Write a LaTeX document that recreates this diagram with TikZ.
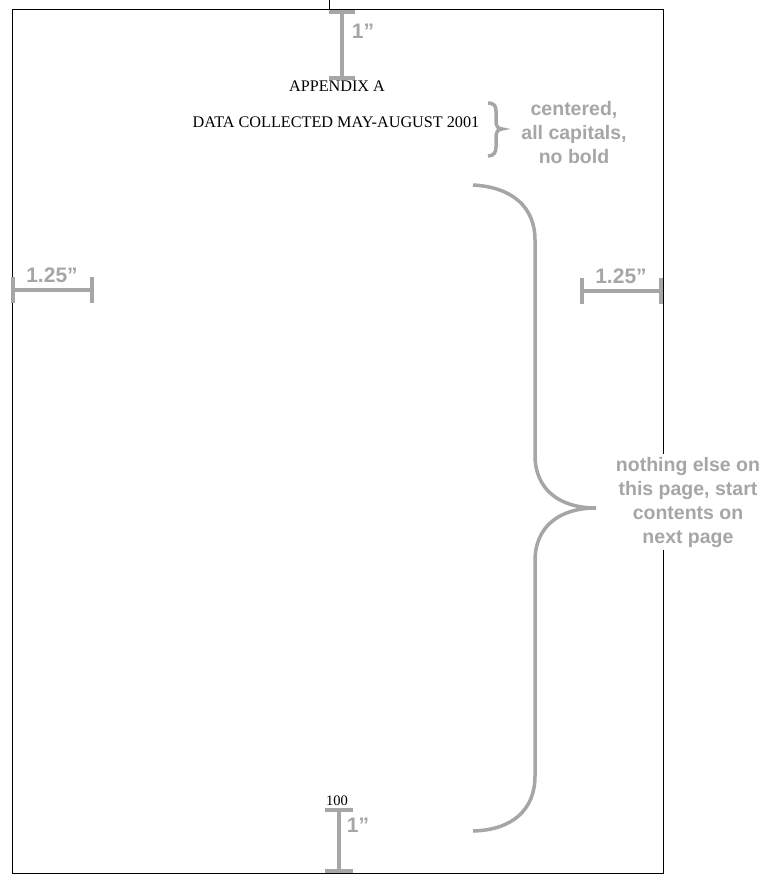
\documentclass[tikz,border=0pt]{standalone}
\usepackage{fontspec}
\setmainfont{Liberation Serif}
\newfontfamily\notefont{Liberation Sans}
\definecolor{notegray}{HTML}{A6A6A6}
\tikzset{
  gline/.style={draw=notegray,line width=4pt},
  gcap/.style={draw=notegray,line width=4pt},
  note/.style={text=notegray,font=\notefont\bfseries\fontsize{19.5}{24}\selectfont,align=center,inner sep=1pt},
  dim/.style={text=notegray,font=\notefont\bfseries\fontsize{21}{22}\selectfont,inner sep=0pt},
  body/.style={font=\fontsize{16.2}{18}\selectfont,inner sep=0pt}
}
\begin{document}
\begin{tikzpicture}[x=1pt,y=-1pt]
\useasboundingbox (0,0) rectangle (771,886);
% page
\draw[line width=1pt] (12,9) rectangle (663,873);
\draw[line width=0.8pt] (329,0) -- (329,9);
% title
\node[body] (appx) at (337,86) {APPENDIX A};
\node[body] (data) at (336,122) {DATA COLLECTED MAY-AUGUST 2001};
\node[body,font=\fontsize{14.5}{16}\selectfont] (pnum) at (337,801) {100};
% top I-beam
\coordinate (t1) at (342,12);
\coordinate (t2) at (342,78);
\draw[gline] (t1) -- (t2);
\draw[gcap] ([xshift=-13pt]t1) -- ([xshift=13pt]t1);
\draw[gcap] ([xshift=-13pt]t2) -- ([xshift=13pt]t2);
\node[dim] (t1lab) at (363,31) {1”};
% bottom I-beam
\coordinate (b1) at (339,810);
\coordinate (b2) at (339,871);
\draw[gline] (b1) -- (b2);
\draw[gcap] ([xshift=-14pt]b1) -- ([xshift=14pt]b1);
\draw[gcap] ([xshift=-14pt]b2) -- ([xshift=14pt]b2);
\node[dim] (b1lab) at (358,825) {1”};
% left dimension
\coordinate (l1) at (13,290);
\coordinate (l2) at (92,290);
\draw[gline] (l1) -- (l2);
\draw[gcap] ([yshift=-13pt]l1) -- ([yshift=13pt]l1);
\draw[gcap] ([yshift=-13pt]l2) -- ([yshift=13pt]l2);
\node[dim] (llab) at (52,275) {1.25”};
% right dimension
\coordinate (r1) at (582,291);
\coordinate (r2) at (661,291);
\draw[gline] (r1) -- (r2);
\draw[gcap] ([yshift=-13pt]r1) -- ([yshift=13pt]r1);
\draw[gcap] ([yshift=-13pt]r2) -- ([yshift=13pt]r2);
\node[dim] (rlab) at (621,276) {1.25”};
% small brace
\draw[draw=notegray,line width=3.5pt] (488,103) .. controls (494,103) and (496,106) .. (496,111)
  -- (496,121) .. controls (496,126) and (498,129) .. (502,129)
  .. controls (498,129) and (496,132) .. (496,137) -- (496,147)
  .. controls (496,152) and (494,156) .. (488,156);
\node[note] (capnote) at (574,133) {centered,\\all capitals,\\no bold};
% big brace
\draw[draw=notegray,line width=3.5pt] (473,185) .. controls (512,187) and (535,207) .. (535,240)
  -- (535,455) .. controls (535,490) and (560,508) .. (596,508)
  .. controls (560,508) and (535,526) .. (535,561)
  -- (535,776) .. controls (535,810) and (512,830) .. (473,831);
\node[note,fill=white,inner sep=3pt] (nextnote) at (688,502) {nothing else on\\this page, start\\contents on\\next page};
\end{tikzpicture}
\end{document}
